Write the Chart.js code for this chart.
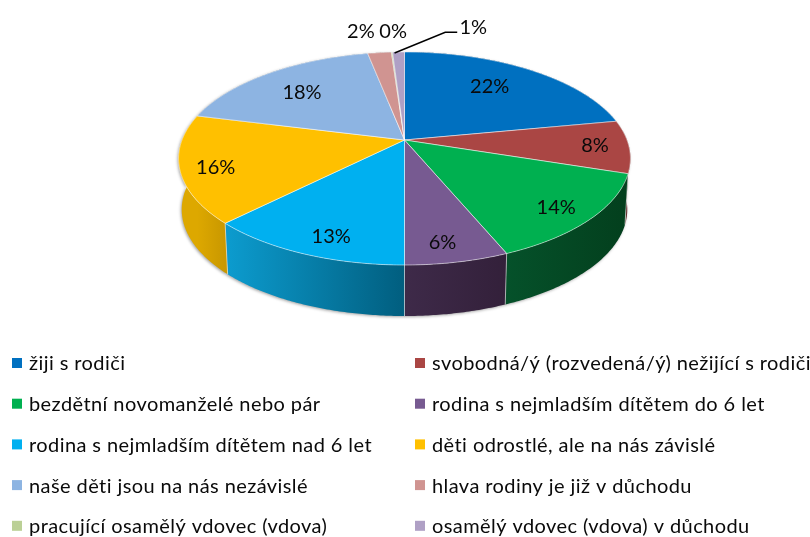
<!DOCTYPE html>
<html><head><meta charset="utf-8">
<script src="https://cdn.jsdelivr.net/npm/chart.js@4"></script>
<style>html,body{margin:0;padding:0;background:#fff}#w{width:810px;height:537px}</style>
</head><body><div id="w"><canvas id="c" width="810" height="537"></canvas></div>
<script>
const categories = ["žiji s rodiči","svobodná/ý (rozvedená/ý) nežijící s rodiči","bezdětní novomanželé nebo pár","rodina s nejmladším dítětem do 6 let","rodina s nejmladším dítětem nad 6 let","děti odrostlé, ale na nás závislé","naše děti jsou na nás nezávislé","hlava rodiny je již v důchodu","pracující osamělý vdovec (vdova)","osamělý vdovec (vdova) v důchodu"];
const shares = [22,8,13.7,6.3,12.5,16.4,18,2,0.1,1];
const topColors = ["#0070C0","#AA4644","#00B050","#775A91","#00B0F0","#FFC000","#8DB4E2","#D09491","#BBD096","#AFA0C5"];
const sideLeft = ["#003A66","#5E2322","#05512A","#3E2A49","#0C9CCF","#DDA800","#4A6A8E","#7A5755","#6F7C59","#675E74"];
const sideRight = ["#003A66","#5E2322","#033F1D","#33203A","#015E7F","#C99800","#4A6A8E","#7A5755","#6F7C59","#675E74"];
const labelReach = [0.705,0.85,0.85,0.86,0.85,0.85,0.71,1.31,1.29,1.40];
const labelTurn = [-3,0,1.3,1.6,-3,-2,-1.3,-3,1,17.6];

const G = {cx:404.5, cy:140, A:222.5, B:103.3, k:0.1737, depth:51, shrink:0.986};
function project(a, r){
  const u=r*Math.cos(a), v=r*Math.sin(a), w=1-G.k*v;
  return {x:G.cx+G.A*u/w, y:G.cy+G.B*v/w};
}
function rim(a0,a1,dropped){
  const n=Math.max(2,Math.ceil(Math.abs(a1-a0)/0.01)), pts=[];
  for(let i=0;i<=n;i++){
    const p=project(a0+(a1-a0)*i/n,1);
    pts.push(dropped?{x:G.cx+(p.x-G.cx)*G.shrink,y:p.y+G.depth}:p);
  }
  return pts;
}
const FONT='Lato, sans-serif';
const pie3d={
  id:'pie3d',
  beforeDatasetsDraw(chart){
    const ctx=chart.ctx, arcs=chart.getDatasetMeta(0).data;
    ctx.save();
    // side wall
    arcs.forEach((arc,i)=>{
      const a=rim(arc.startAngle,arc.endAngle,false), b=rim(arc.startAngle,arc.endAngle,true).reverse();
      const g=ctx.createLinearGradient(Math.min(a[0].x,a[a.length-1].x),0,Math.max(a[0].x,a[a.length-1].x)+0.01,0);
      g.addColorStop(0,sideLeft[i]); g.addColorStop(1,sideRight[i]);
      ctx.beginPath();
      a.concat(b).forEach((p,j)=>j?ctx.lineTo(p.x,p.y):ctx.moveTo(p.x,p.y));
      ctx.closePath();
      ctx.shadowColor='rgba(0,0,0,0.35)'; ctx.shadowBlur=3; ctx.shadowOffsetX=-1; ctx.shadowOffsetY=1;
      ctx.fillStyle=g; ctx.fill();
      ctx.shadowColor='transparent';
    });
    // seams of the wall
    ctx.strokeStyle='rgba(255,255,255,0.55)'; ctx.lineWidth=1;
    arcs.forEach(arc=>{
      const s=Math.sin(arc.startAngle);
      if(s>0.15){
        const p=rim(arc.startAngle,arc.startAngle+0.001,false)[0], q=rim(arc.startAngle,arc.startAngle+0.001,true)[0];
        ctx.beginPath(); ctx.moveTo(p.x,p.y); ctx.lineTo(q.x,q.y); ctx.stroke();
      }
    });
    // top face
    arcs.forEach((arc,i)=>{
      const pts=rim(arc.startAngle,arc.endAngle,false);
      ctx.beginPath(); ctx.moveTo(G.cx,G.cy);
      pts.forEach(p=>ctx.lineTo(p.x,p.y)); ctx.closePath();
      ctx.fillStyle=topColors[i]; ctx.fill();
      ctx.strokeStyle='rgba(255,255,255,0.5)'; ctx.lineWidth=1; ctx.stroke();
    });
    // value labels
    ctx.font='20px '+FONT; ctx.fillStyle='#0a0a0a'; ctx.textAlign='center'; ctx.textBaseline='middle';
    arcs.forEach((arc,i)=>{
      const mid=(arc.startAngle+arc.endAngle)/2+labelTurn[i]*Math.PI/180;
      const p=project(mid,labelReach[i]);
      ctx.fillText(Math.round(shares[i])+'%',p.x,p.y);
      if(i===arcs.length-1){
        const e=project((arc.startAngle+arc.endAngle)/2,1);
        ctx.strokeStyle='#000'; ctx.lineWidth=1.5;
        ctx.beginPath(); ctx.moveTo(e.x-4,e.y+1); ctx.lineTo(p.x-28,p.y+5); ctx.lineTo(p.x-16,p.y+5); ctx.stroke();
      }
    });
    // legend
    ctx.textAlign='left'; ctx.font='20px '+FONT; ctx.letterSpacing='0.42px';
    categories.forEach((t,i)=>{
      const col=i%2, row=(i-col)/2, y=363+row*40.7;
      const mx=col?415:12, tx=col?432:29;
      ctx.fillStyle=topColors[i]; ctx.fillRect(mx,y-5,10,10);
      ctx.fillStyle='#0a0a0a'; ctx.fillText(t,tx,y+1);
    });
    ctx.restore();
    return false;
  }
};
new Chart(document.getElementById('c'),{
  type:'pie',
  data:{labels:categories,datasets:[{data:shares,backgroundColor:topColors}]},
  options:{responsive:false,animation:false,
    plugins:{legend:{display:false},tooltip:{enabled:false}}},
  plugins:[pie3d]
});
</script></body></html>
